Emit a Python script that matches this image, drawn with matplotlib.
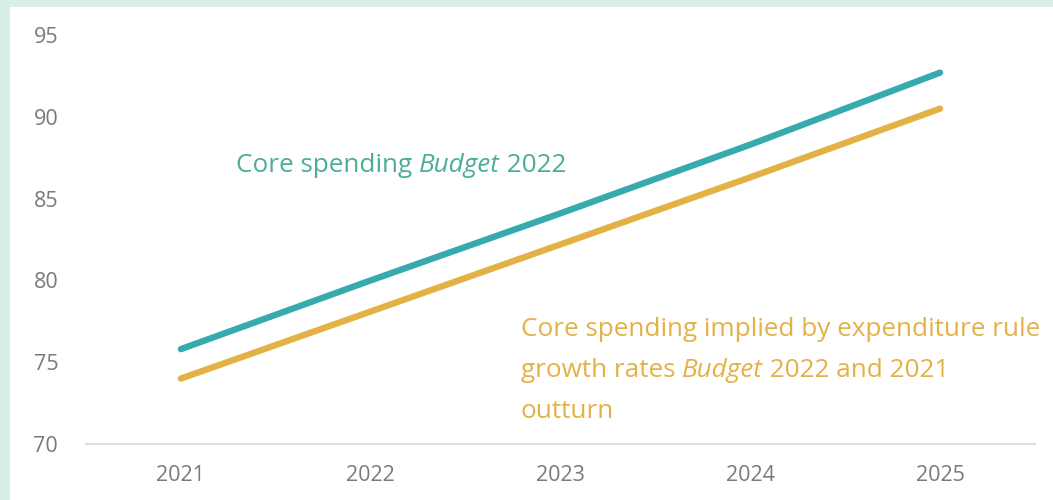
import matplotlib
matplotlib.use("Agg")
import matplotlib.pyplot as plt
import matplotlib.transforms as mtransforms

plt.rcParams["font.family"] = ["Open Sans", "DejaVu Sans"]

YEARS = ["2021", "2022", "2023", "2024", "2025"]
CORE_BUDGET_2022 = [75.8, 80.0, 84.1, 88.3, 92.7]
CORE_IMPLIED = [74.0, 78.1, 82.2, 86.3, 90.5]
Y_TICKS = [70, 75, 80, 85, 90, 95]

TEAL_LINE = "#36aaae"
TEAL_TEXT = "#4aae96"
GOLD = "#e4b146"
GREY = "#7a7a7a"
BORDER = "#d8efe9"


def draw_mixed_line(ax, fig, x, y, parts, color, fontsize):
    """Draw text pieces (text, italic) one after another on one baseline."""
    renderer = fig.canvas.get_renderer()
    offset_px = 0.0
    for text, italic in parts:
        trans = mtransforms.offset_copy(ax.transData, fig=fig, x=offset_px * 72 / fig.dpi, y=0, units="points")
        t = ax.text(x, y, text, transform=trans, color=color, fontsize=fontsize,
                    fontstyle="italic" if italic else "normal", ha="left", va="baseline")
        offset_px += t.get_window_extent(renderer=renderer).width


fig = plt.figure(figsize=(10.53, 5.0), dpi=100, facecolor=BORDER)
# white panel inside the mint frame (frame on top and left only)
panel = fig.add_axes([10 / 1053, 0, 1 - 10 / 1053, 1 - 7 / 500])
panel.set_facecolor("white")
panel.set_xticks([])
panel.set_yticks([])
for spine in panel.spines.values():
    spine.set_visible(False)

ax = fig.add_axes([86 / 1053, 56 / 500, (1035 - 86) / 1053, (444 - 35) / 500])
ax.set_facecolor("none")
x = list(range(len(YEARS)))
ax.plot(x, CORE_BUDGET_2022, color=TEAL_LINE, linewidth=4.6, solid_capstyle="round", zorder=3)
ax.plot(x, CORE_IMPLIED, color=GOLD, linewidth=4.6, solid_capstyle="round", zorder=3)

ax.set_xlim(-0.5, len(YEARS) - 0.5)
ax.set_ylim(70, 95)
ax.set_xticks(x)
ax.set_xticklabels(YEARS)
ax.set_yticks(Y_TICKS)
ax.tick_params(axis="both", length=0, labelsize=15.5, labelcolor=GREY)
ax.tick_params(axis="y", pad=20)
ax.tick_params(axis="x", pad=15)
for side in ["top", "right", "left"]:
    ax.spines[side].set_visible(False)
ax.spines["bottom"].set_color("#dddddd")
ax.spines["bottom"].set_linewidth(1.5)

fig.canvas.draw()
draw_mixed_line(ax, fig, 0.29, 86.6,
                [("Core spending ", False), ("Budget", True), (" 2022", False)],
                TEAL_TEXT, 18.8)
draw_mixed_line(ax, fig, 1.79, 76.6,
                [("Core spending implied by expenditure rule", False)], GOLD, 18.8)
draw_mixed_line(ax, fig, 1.79, 74.1,
                [("growth rates ", False), ("Budget", True), (" 2022 and 2021", False)], GOLD, 18.8)
draw_mixed_line(ax, fig, 1.79, 71.6, [("outturn", False)], GOLD, 18.8)

fig.savefig("out.png", dpi=100, facecolor=BORDER)
